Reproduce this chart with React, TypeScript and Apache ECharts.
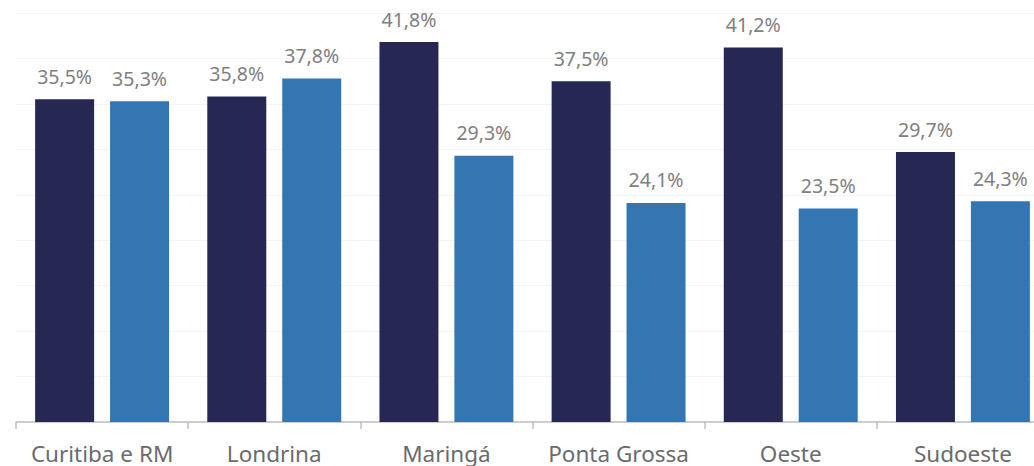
import React, { useEffect, useRef } from "react";
import * as echarts from "echarts";

const categories = ["Curitiba e RM", "Londrina", "Maringá", "Ponta Grossa", "Oeste", "Sudoeste"];
const seriesA = [35.5, 35.8, 41.8, 37.5, 41.2, 29.7];
const seriesB = [35.3, 37.8, 29.3, 24.1, 23.5, 24.3];

const fmt = (v: number) => v.toFixed(1).replace(".", ",") + "%";

export default function App() {
  const ref = useRef<HTMLDivElement>(null);
  useEffect(() => {
    const chart = echarts.init(ref.current!, undefined, { renderer: "svg" });
    const label = {
      show: true,
      position: "top" as const,
      distance: 13,
      color: "#808080",
      fontSize: 19.5,
      fontFamily: "Noto Sans, sans-serif",
      formatter: (p: any) => fmt(p.value),
    };
    chart.setOption({
      animation: false,
      grid: { left: 16, top: 13, width: 1033, height: 409, outerBoundsMode: "none", containLabel: false },
      xAxis: {
        type: "category",
        data: categories,
        axisLine: { lineStyle: { color: "#bfbfbf", width: 1.5 } },
        axisTick: { show: true, interval: 0, length: 7, lineStyle: { color: "#bfbfbf", width: 1.5 } },
        axisLabel: {
          interval: 0,
          hideOverlap: false,
          color: "#6b6b6b",
          fontSize: 22.5,
          margin: 20,
          fontFamily: "Noto Sans, sans-serif",
        },
      },
      yAxis: {
        type: "value",
        min: 0,
        max: 45,
        interval: 5,
        axisLabel: { show: false },
        axisLine: { show: false },
        axisTick: { show: false },
        splitLine: { lineStyle: { color: "#f3f3f3", width: 1 } },
      },
      series: [
        {
          type: "bar",
          data: seriesA,
          barWidth: 59,
          barGap: "27%",
          itemStyle: { color: "#262853" },
          label,
        },
        {
          type: "bar",
          data: seriesB,
          barWidth: 59,
          barGap: "27%",
          itemStyle: { color: "#3476b1" },
          label,
        },
      ],
    });
    return () => chart.dispose();
  }, []);
  return (
    <div
      ref={ref}
      style={{ position: "fixed", left: 0, top: 0, width: 1034, height: 466, background: "#fff" }}
    />
  );
}
